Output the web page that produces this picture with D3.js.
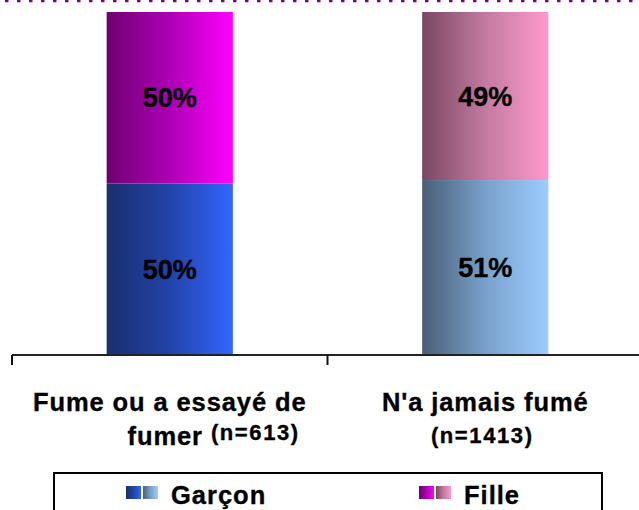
<!DOCTYPE html>
<html>
<head>
<meta charset="utf-8">
<script src="https://cdn.jsdelivr.net/npm/d3@7"></script>
<style>
  body { margin: 0; background: #fff; }
  svg { display: block; font-family: "Liberation Sans", Arial, sans-serif; font-weight: bold; }
  text { stroke: #000; stroke-width: 0.35px; }
</style>
</head>
<body>
<svg width="639" height="510"></svg>
<script>
//-- data --//
const categories = ["Fume ou a essayé de fumer", "N'a jamais fumé"];
const labelLine1 = ["Fume ou a essayé de", "N'a jamais fumé"];
const labelLine2 = ["fumer", ""];
const labelCounts = ["(n=613)", "(n=1413)"];
const series = ["Garçon", "Fille"];
const garcon = [0.50, 0.51];
const fille = [0.50, 0.49];

// gradient colours per series x category (dark -> mid -> light)
const grads = {
  "Garçon": [["#1a2f6e", "#2243a8", "#3366ff"], ["#4a5f78", "#78a0ca", "#9ccdff"]],
  "Fille":  [["#700070", "#ad00b4", "#ff00ff"], ["#7a4862", "#c27aa0", "#ff99cc"]]
};

const rows = categories.map((c, i) => ({cat: c, "Garçon": garcon[i], "Fille": fille[i]}));
const stacked = d3.stack().keys(series)(rows);

const margin = {top: 12, bottom: 155, left: 12, right: -4};
const width = 639, height = 510;

const x = d3.scaleBand()
    .domain(categories)
    .range([margin.left, width - margin.right])
    .padding(0);

const y = d3.scaleLinear()
    .domain([0, 1])
    .range([height - margin.bottom, margin.top]);

const barW = x.bandwidth() * 0.4;

const svg = d3.select("svg");
const defs = svg.append("defs");

series.forEach((s, si) => {
  grads[s].forEach((cols, ci) => {
    const g = defs.append("linearGradient")
        .attr("id", `g-${si}-${ci}`)
        .attr("x1", 0).attr("x2", 1).attr("y1", 0).attr("y2", 0);
    g.selectAll("stop").data(cols).join("stop")
        .attr("offset", (d, i) => i / (cols.length - 1))
        .attr("stop-color", d => d);
  });
});

//-- top dotted border --//
svg.append("line")
    .attr("x1", 5).attr("x2", width)
    .attr("y1", 1).attr("y2", 1)
    .attr("stroke", "#800080")
    .attr("stroke-width", 2.5)
    .attr("stroke-dasharray", "3.5,8.5");

//-- bars --//
const layer = svg.append("g")
  .selectAll("g")
  .data(stacked)
  .join("g");

layer.selectAll("rect")
  .data((d, si) => d.map((v, ci) => ({v, si, ci})))
  .join("rect")
    .attr("x", d => x(d.v.data.cat) + (x.bandwidth() - barW) / 2)
    .attr("width", barW)
    .attr("y", d => y(d.v[1]))
    .attr("height", d => y(d.v[0]) - y(d.v[1]))
    .attr("fill", d => `url(#g-${d.si}-${d.ci})`);

layer.selectAll("text")
  .data(d => d)
  .join("text")
    .attr("x", d => x(d.data.cat) + x.bandwidth() / 2)
    .attr("y", d => (y(d[0]) + y(d[1])) / 2)
    .attr("dy", "0.36em")
    .attr("text-anchor", "middle")
    .attr("font-size", 27)
    .attr("fill", "#000")
    .text(d => Math.round((d[1] - d[0]) * 100) + "%");

//-- axis --//
const base = y(0);
svg.append("line")
    .attr("x1", x.range()[0]).attr("x2", width)
    .attr("y1", base).attr("y2", base)
    .attr("stroke", "#222").attr("stroke-width", 2);
svg.append("g").selectAll("line")
  .data(categories)
  .join("line")
    .attr("x1", d => x(d)).attr("x2", d => x(d))
    .attr("y1", base).attr("y2", base + 10)
    .attr("stroke", "#111").attr("stroke-width", 2);

//-- category labels --//
const lab = svg.append("g")
  .selectAll("g")
  .data(categories)
  .join("g")
    .attr("transform", d => `translate(${x(d) + x.bandwidth() / 2},0)`);

lab.append("text")
    .attr("y", 411)
    .attr("text-anchor", "middle")
    .attr("font-size", 25.5)
    .attr("letter-spacing", 0.9)
    .text((d, i) => labelLine1[i]);

const l2 = lab.append("text")
    .attr("y", 445)
    .attr("text-anchor", (d, i) => labelLine2[i] ? "end" : "middle")
    .attr("x", (d, i) => labelLine2[i] ? 130 : -3);
l2.append("tspan")
    .attr("font-size", 25.5)
    .attr("letter-spacing", 0.9)
    .text((d, i) => labelLine2[i] ? labelLine2[i] + " " : "");
l2.append("tspan")
    .attr("font-size", 22)
    .attr("letter-spacing", 1.6)
    .attr("dy", (d, i) => labelLine2[i] ? -5 : -2)
    .text((d, i) => labelCounts[i]);

//-- legend --//
svg.append("rect")
    .attr("x", 54).attr("y", 473)
    .attr("width", 548).attr("height", 60)
    .attr("fill", "none")
    .attr("stroke", "#000").attr("stroke-width", 2);

const leg = svg.append("g")
  .selectAll("g")
  .data(series)
  .join("g")
    .attr("transform", (d, i) => `translate(${126 + i * 293},486)`);

leg.selectAll("rect")
  .data((d, si) => categories.map((c, ci) => ({si, ci})))
  .join("rect")
    .attr("x", d => d.ci * 17)
    .attr("width", 15).attr("height", 13)
    .attr("fill", d => `url(#g-${d.si}-${d.ci})`);

leg.append("text")
    .attr("x", 45)
    .attr("y", 18)
    .attr("font-size", 25.5)
    .attr("letter-spacing", 1)
    .text(d => d);
</script>
</body>
</html>
